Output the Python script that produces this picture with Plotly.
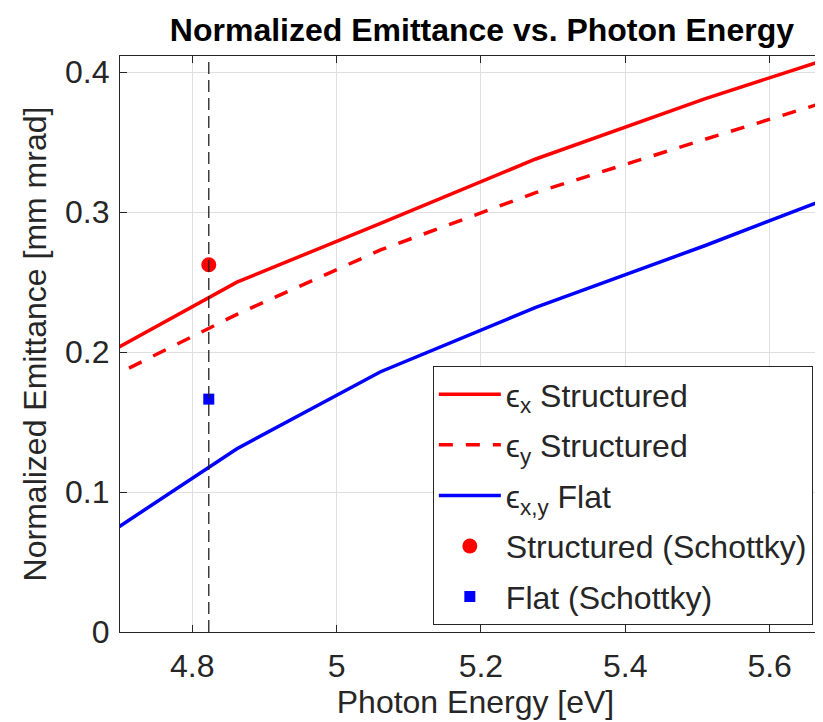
import plotly.graph_objects as go

# ---- data ----
photon_energy = [4.679, 4.862, 5.061, 5.276, 5.510, 5.767]
emit_x_structured = [0.198, 0.250, 0.292, 0.338, 0.381, 0.424]
emit_y_structured = [0.180, 0.227, 0.273, 0.314, 0.352, 0.393]
emit_flat = [0.0685, 0.131, 0.186, 0.232, 0.276, 0.327]

schottky_energy = [4.823]
schottky_structured = [0.2624]
schottky_flat = [0.1664]

x_ticks = [4.8, 5.0, 5.2, 5.4, 5.6]
x_tick_labels = ["4.8", "5", "5.2", "5.4", "5.6"]
y_ticks = [0, 0.1, 0.2, 0.3, 0.4]
y_tick_labels = ["0", "0.1", "0.2", "0.3", "0.4"]

FONT = "Liberation Sans, Arial, Helvetica, sans-serif"
AX = "#262626"
GRID = "#dfdfdf"
FS = 32

fig = go.Figure()
fig.add_trace(go.Scatter(x=photon_energy, y=emit_x_structured, mode="lines",
                         name="ϵ<sub>x</sub> Structured", legendgroup="a",
                         line=dict(color="#ff0000", width=3.5)))
fig.add_trace(go.Scatter(x=photon_energy, y=emit_y_structured, mode="lines",
                         name="ϵ<sub>y</sub> Structured", legendgroup="b",
                         line=dict(color="#ff0000", width=3.5, dash="14px,13px")))
fig.add_trace(go.Scatter(x=photon_energy, y=emit_flat, mode="lines",
                         name="ϵ<sub>x,y</sub> Flat", legendgroup="c",
                         line=dict(color="#0000ff", width=3.5)))
fig.add_trace(go.Scatter(x=schottky_energy, y=schottky_structured, mode="markers",
                         name="Structured (Schottky)", legendgroup="d",
                         marker=dict(color="#ff0000", size=15, symbol="circle")))
fig.add_trace(go.Scatter(x=schottky_energy, y=schottky_flat, mode="markers",
                         name="Flat (Schottky)", legendgroup="e",
                         marker=dict(color="#0000ff", size=11, symbol="square")))

fig.add_shape(type="line", xref="x", yref="paper",
              x0=schottky_energy[0], x1=schottky_energy[0], y0=0, y1=1,
              line=dict(color="#222222", width=1.3, dash="12px,6px"), layer="above")

fig.update_layout(
    width=823, height=722,
    margin=dict(l=112, r=0, t=48, b=98),
    paper_bgcolor="white", plot_bgcolor="white",
    font=dict(family=FONT, size=FS, color=AX),
    title=dict(text="<b>Normalized Emittance vs. Photon Energy</b>",
               x=0.509, xref="paper", xanchor="center",
               y=0.970, yanchor="middle", yref="container",
               font=dict(family=FONT, size=FS, color="#000000")),
    showlegend=True,
    legend=dict(x=0.440, y=0.462, xanchor="left", yanchor="top",
                bgcolor="white", bordercolor=AX, borderwidth=1,
                font=dict(family=FONT, size=FS, color=AX),
                itemwidth=62, tracegroupgap=6),
)
fig.update_xaxes(range=[4.7, 5.685], tickvals=x_ticks, ticktext=x_tick_labels,
                 tickfont=dict(size=FS),
                 showgrid=True, gridcolor=GRID, gridwidth=1,
                 showline=True, linecolor=AX, linewidth=1.3, mirror="ticks",
                 ticks="inside", ticklen=7, tickcolor=AX, zeroline=False,
                 ticklabelstandoff=5,
                 title=dict(text="Photon Energy [eV]", standoff=8,
                            font=dict(size=FS, color=AX)))
fig.update_yaxes(range=[0, 0.4116], tickvals=y_ticks, ticktext=y_tick_labels,
                 tickfont=dict(size=FS),
                 showgrid=True, gridcolor=GRID, gridwidth=1,
                 showline=True, linecolor=AX, linewidth=1.3, mirror="ticks",
                 ticks="inside", ticklen=7, tickcolor=AX, zeroline=False,
                 ticklabelstandoff=3,
                 title=dict(text="Normalized Emittance [mm mrad]", standoff=8,
                            font=dict(size=FS, color=AX)))

fig.write_html("out.html")
